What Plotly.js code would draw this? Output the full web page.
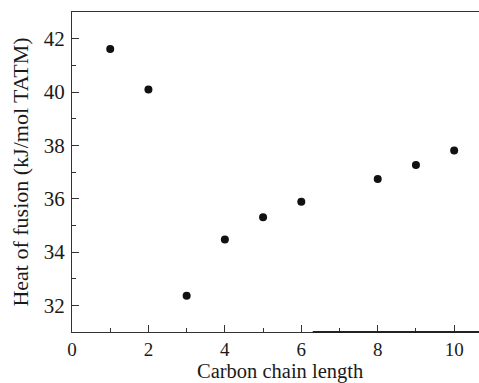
<!DOCTYPE html>
<html>
<head>
<meta charset="utf-8">
<script src="https://cdn.plot.ly/plotly-3.0.1.min.js"></script>
<style>html,body{margin:0;padding:0;background:#fff;}#chart{width:479px;height:383px;}</style>
</head>
<body>
<div id="chart"></div>
<script>
const chainLength = [1, 2, 3, 4, 5, 6, 8, 9, 10];
const heatOfFusion = [41.61, 40.09, 32.36, 34.47, 35.30, 35.88, 36.74, 37.26, 37.81];
const xTickVals = [0, 2, 4, 6, 8, 10];
const yTickVals = [32, 34, 36, 38, 40, 42];
const xTitle = 'Carbon chain length';
const yTitle = 'Heat of fusion (kJ/mol TATM)';

const font = {family: 'Liberation Serif, Times New Roman, serif', size: 20, color: '#1a1a1a'};

const trace = {
  x: chainLength,
  y: heatOfFusion,
  mode: 'markers',
  type: 'scatter',
  marker: {color: '#111', size: 8},
  hoverinfo: 'skip'
};

const layout = {
  width: 479, height: 383,
  margin: {l: 72, r: 0, t: 12, b: 51},
  paper_bgcolor: '#fff', plot_bgcolor: '#fff',
  font: font,
  showlegend: false,
  xaxis: {
    range: [0, 10.65], tickvals: xTickVals, ticks: 'inside', ticklen: 7, tickwidth: 1, tickcolor: '#333',
    minor: {ticks: 'inside', dtick: 1, tick0: 0, ticklen: 4, tickcolor: '#333', showgrid: false},
    showline: true, linecolor: '#333', linewidth: 1, mirror: true, showgrid: false, zeroline: false,
    tickfont: {size: 19}, ticklabelstandoff: 0
  },
  yaxis: {
    range: [31, 43], tickvals: yTickVals, ticks: 'inside', ticklen: 7, tickwidth: 1, tickcolor: '#333',
    minor: {ticks: 'inside', dtick: 1, tick0: 31, ticklen: 4, tickcolor: '#333', showgrid: false},
    showline: true, linecolor: '#333', linewidth: 1, showgrid: false, zeroline: false,
    tickfont: {size: 21}, ticklabelstandoff: 2,
    title: {text: yTitle, font: {size: 22}, standoff: 9}
  },
  annotations: [
    {text: xTitle, xref: 'paper', yref: 'paper', x: 0.512, y: -0.159, xanchor: 'center', yanchor: 'bottom',
     yshift: -1, showarrow: false, font: {size: 20.5}, borderpad: 0}
  ],
  shapes: [
    {type: 'line', xref: 'x', yref: 'paper', x0: 6.3, x1: 10.65, y0: 0, y1: 0, line: {color: '#222', width: 2}}
  ]
};

Plotly.newPlot('chart', [trace], layout, {displayModeBar: false, staticPlot: true});
</script>
</body>
</html>
